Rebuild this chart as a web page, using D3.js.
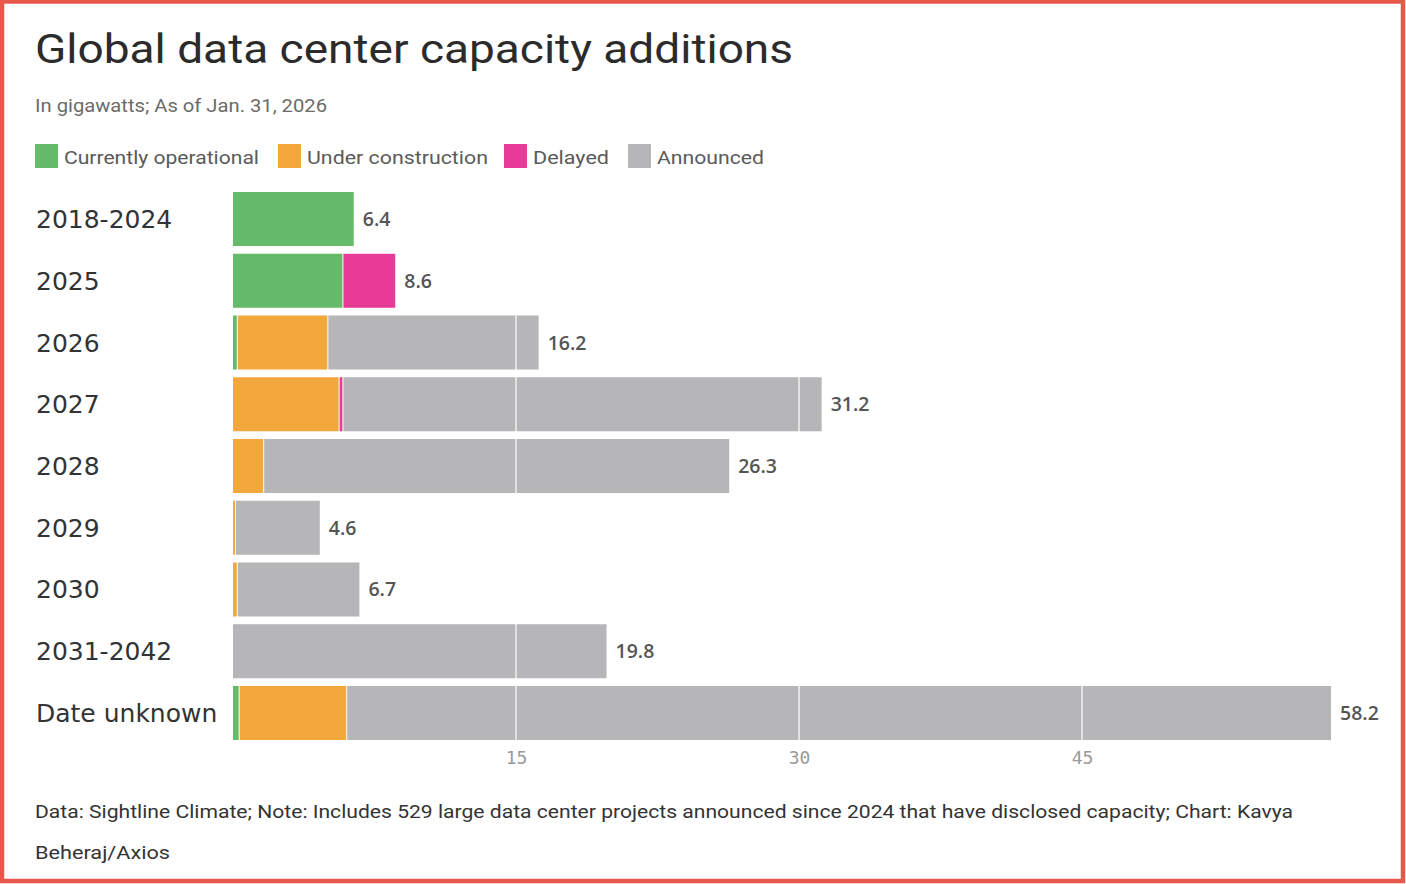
<!DOCTYPE html>
<html><head><meta charset="utf-8">
<script src="https://cdn.jsdelivr.net/npm/d3@7/dist/d3.min.js"></script>
<style>
html,body{margin:0;padding:0;background:#fff;}
svg{display:block;}
</style></head>
<body>
<svg id="chart" width="1406" height="884"></svg>
<script>
const categories = ["2018-2024","2025","2026","2027","2028","2029","2030","2031-2042","Date unknown"];
const operational = [6.4, 5.8, 0.2, 0, 0, 0, 0, 0, 0.3];
const construction = [0, 0, 4.8, 5.6, 1.6, 0.1, 0.2, 0, 5.7];
const delayed = [0, 2.8, 0, 0.2, 0, 0, 0, 0, 0];
const announced = [0, 0, 11.2, 25.4, 24.7, 4.5, 6.5, 19.8, 52.2];
const totals = [6.4, 8.6, 16.2, 31.2, 26.3, 4.6, 6.7, 19.8, 58.2];
const seriesNames = ["Currently operational","Under construction","Delayed","Announced"];
const seriesColors = ["#66bb6a","#f2a83d","#e83b98","#b6b6b8"];
const xTicks = [15, 30, 45];

const title = "Global data center capacity additions";
const subtitle = "In gigawatts; As of Jan. 31, 2026";
const footer1 = "Data: Sightline Climate; Note: Includes 529 large data center projects announced since 2024 that have disclosed capacity; Chart: Kavya";
const footer2 = "Beheraj/Axios";

const svg = d3.select("#chart");
const keys = ["op","uc","de","an"];
const rows = categories.map((c,i)=>({cat:c, op:operational[i], uc:construction[i], de:delayed[i], an:announced[i], total:totals[i]}));
const stacked = d3.stack().keys(keys)(rows);

const x = d3.scaleLinear().domain([0,60]).range([233, 233 + 283/15*60]);
const y = d3.scaleBand().domain(categories).range([192, 740]).paddingInner(0.125).paddingOuter(0);
const color = d3.scaleOrdinal().domain(keys).range(seriesColors);

function fit(sel, w){
  sel.each(function(){
    const len = this.getComputedTextLength();
    if (len > 0) { d3.select(this).attr("textLength", w).attr("lengthAdjust","spacingAndGlyphs"); }
  });
}

// border
svg.append("rect").attr("x",2).attr("y",1.5).attr("width",1401).attr("height",879.5)
  .attr("fill","none").attr("stroke","#e9574b").attr("stroke-width",4.5);

// title
svg.append("text").attr("x",35).attr("y",63).text(title)
  .attr("font-family","Roboto, 'Liberation Sans', sans-serif").attr("font-size",41).attr("fill","#2b2b2b")
  .call(fit, 758);
svg.append("text").attr("x",35).attr("y",112).text(subtitle)
  .attr("font-family","Roboto, 'Liberation Sans', sans-serif").attr("font-size",19).attr("fill","#6b6b6b")
  .call(fit, 292);

// legend
const legendX = [35, 278, 504, 628];
const legendW = [195, 181, 76, 107];
const lg = svg.append("g");
seriesNames.forEach((n,i)=>{
  lg.append("rect").attr("x",legendX[i]).attr("y",144).attr("width",23).attr("height",24).attr("fill",seriesColors[i]);
  lg.append("text").attr("x",legendX[i]+29).attr("y",164).text(n)
    .attr("font-family","Roboto, 'Liberation Sans', sans-serif").attr("font-size",19).attr("fill","#5a5a5a")
    .call(fit, legendW[i]);
});

// bars
const bars = svg.append("g");
stacked.forEach(layer=>{
  bars.selectAll(null).data(layer.filter(d=>d[1]-d[0]>0)).join("rect")
    .attr("x",d=>x(d[0]) + (d[0]>0 ? 1 : 0))
    .attr("y",d=>y(d.data.cat))
    .attr("width",d=>Math.max(2, x(d[1])-x(d[0]) - (d[0]>0 ? 1 : 0)))
    .attr("height",y.bandwidth())
    .attr("fill",color(layer.key));
});

// white gridlines over bars
svg.append("g").selectAll("line").data(xTicks).join("line")
  .attr("x1",d=>x(d)).attr("x2",d=>x(d))
  .attr("y1",y.range()[0]).attr("y2",y.range()[1])
  .attr("stroke","#fff").attr("stroke-width",1.5).attr("opacity",0.8);

// x axis labels
const axis = d3.axisBottom(x).tickValues(xTicks).tickSize(0).tickPadding(0);
const ag = svg.append("g").attr("transform","translate(0,748)").call(axis);
ag.select(".domain").remove();
ag.selectAll("text").attr("font-family","'DejaVu Sans Mono', 'Liberation Mono', monospace")
  .attr("font-size",18).attr("fill","#9a9a9a").attr("dy","0.9em");

// category labels
svg.append("g").selectAll("text").data(categories).join("text")
  .attr("x",36).attr("y",d=>y(d)+y.bandwidth()/2+9).text(d=>d)
  .attr("font-family","'DejaVu Sans', sans-serif").attr("font-size",25).attr("fill","#333");

// value labels
svg.append("g").selectAll("text").data(rows).join("text")
  .attr("x",d=>x(d.total)+9).attr("y",d=>y(d.cat)+y.bandwidth()/2+7)
  .text(d=>d3.format(".1f")(d.total))
  .attr("font-family","'Open Sans', sans-serif").attr("font-weight",600).attr("font-size",19.5).attr("fill","#555");

// footer
svg.append("text").attr("x",35).attr("y",818).text(footer1)
  .attr("font-family","Roboto, 'Liberation Sans', sans-serif").attr("font-size",19).attr("fill","#333")
  .call(fit, 1258);
svg.append("text").attr("x",35).attr("y",859).text(footer2)
  .attr("font-family","Roboto, 'Liberation Sans', sans-serif").attr("font-size",19).attr("fill","#333")
  .call(fit, 135);
</script>
</body></html>
